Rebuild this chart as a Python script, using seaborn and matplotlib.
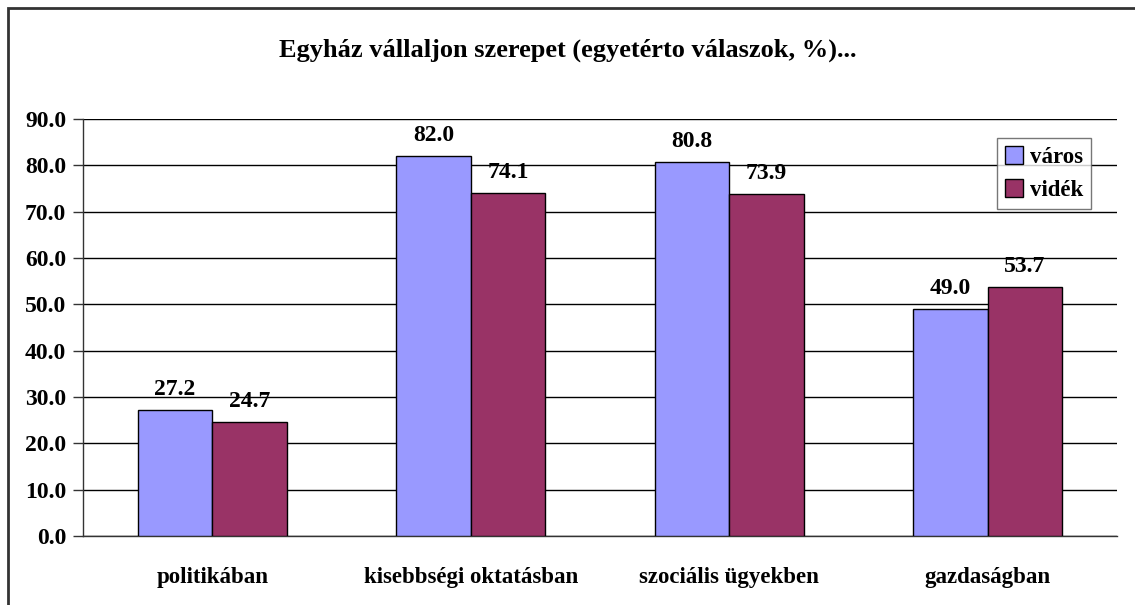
import pandas as pd
import numpy as np
import matplotlib
matplotlib.use('Agg')
import matplotlib.pyplot as plt
import seaborn as sns
from matplotlib.patches import Rectangle

kategoriak = ['politikában', 'kisebbségi oktatásban', 'szociális ügyekben', 'gazdaságban']
varos = [27.2, 82.0, 80.8, 49.0]
videk = [24.7, 74.1, 73.9, 53.7]
sorozatok = ['város', 'vidék']
cim = 'Egyház vállaljon szerepet (egyetérto válaszok, %)...'

df = pd.DataFrame({
    'kategoria': kategoriak * 2,
    'ertek': varos + videk,
    'sorozat': [sorozatok[0]] * 4 + [sorozatok[1]] * 4,
})

sns.set_theme(style='white')
plt.rcParams['font.family'] = ['Liberation Serif', 'DejaVu Serif']
plt.rcParams['font.weight'] = 'bold'
plt.rcParams['text.color'] = 'black'
plt.rcParams['xtick.labelcolor'] = 'black'
plt.rcParams['ytick.labelcolor'] = 'black'

fig = plt.figure(figsize=(11.35, 6.05), dpi=100)
ax = fig.add_axes([83 / 1135, 1 - 536 / 605, (1117 - 83) / 1135, (536 - 119) / 605])

sns.barplot(data=df, x='kategoria', y='ertek', hue='sorozat', order=kategoriak,
            hue_order=sorozatok, palette=['#9999FF', '#993366'], width=0.575,
            edgecolor='black', linewidth=1, saturation=1, ax=ax, zorder=3)

for c in ax.containers:
    ax.bar_label(c, fmt='%.1f', padding=7, fontsize=17, fontweight='bold', color='black')

ax.set_ylim(0, 90)
ax.set_yticks(np.arange(0, 91, 10))
ax.set_yticklabels([f'{v:.1f}' for v in np.arange(0, 91, 10)], fontsize=17, fontweight='bold')
ax.yaxis.grid(True, color='black', linewidth=1, zorder=0)
ax.set_xlim(-0.5, 3.5)
ax.set_xticks(range(4))
ax.set_xticklabels(kategoriak, fontsize=16.5, fontweight='bold')
ax.set_xticks(np.arange(-0.5, 4, 1), minor=True)
ax.tick_params(axis='x', which='major', length=0, pad=22)
ax.tick_params(axis='x', which='minor', length=7, width=1, color='#333333', direction='out')
ax.tick_params(axis='y', length=7, width=1, color='#333333', direction='out', left=True, pad=5)
ax.set_xlabel('')
ax.set_ylabel('')
for s in ['top', 'right']:
    ax.spines[s].set_visible(False)
for s in ['left', 'bottom']:
    ax.spines[s].set_color('#333333')
    ax.spines[s].set_linewidth(1)

ax.legend(title=None, loc='upper right', bbox_to_anchor=(0.975, 0.954), borderaxespad=0,
          frameon=True, fancybox=False, edgecolor='#555555', handlelength=0.8,
          handleheight=0.8, handletextpad=0.3, borderpad=0.35, labelspacing=0.5,
          prop={'weight': 'bold', 'size': 16.5})

fig.text(0.5, 1 - 50 / 605, cim, ha='center', va='center', fontsize=19, fontweight='bold')

fig.patches.append(Rectangle((8 / 1135, -0.1), 1.2, 1 - 8 / 605 + 0.1, transform=fig.transFigure,
                             fill=False, edgecolor='#333333', linewidth=2))

fig.savefig('out.png', dpi=100, facecolor='white')
